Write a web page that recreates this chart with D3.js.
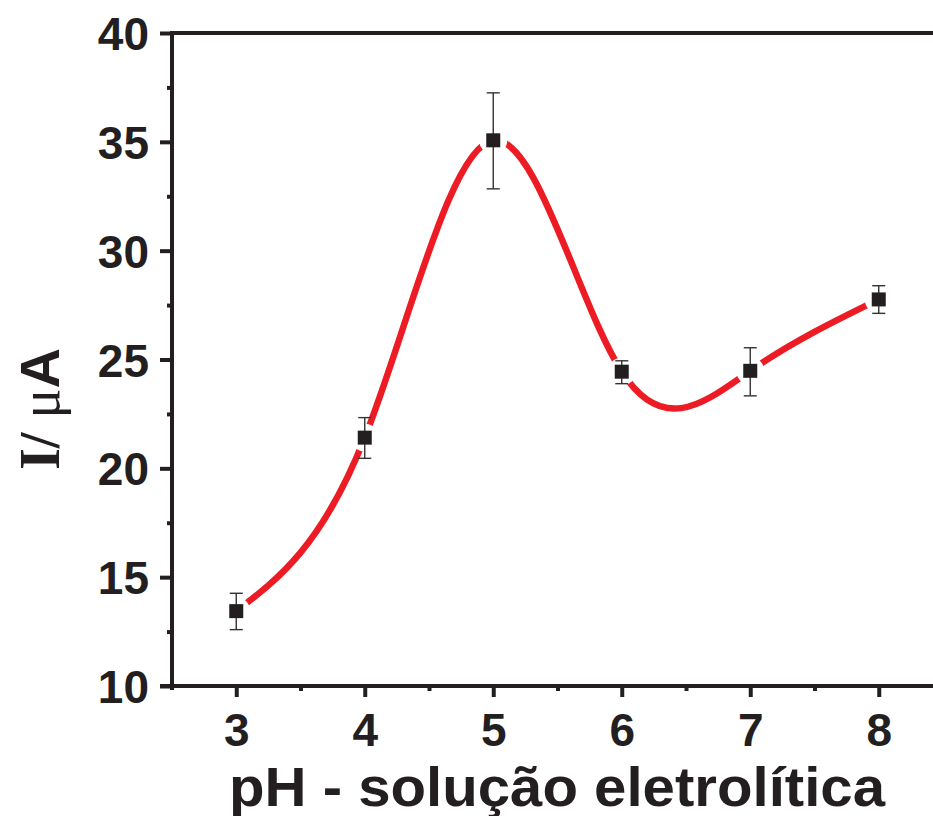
<!DOCTYPE html>
<html>
<head>
<meta charset="utf-8">
<script src="https://cdn.jsdelivr.net/npm/d3@7"></script>
<style>
  body { margin: 0; background: #fff; }
  svg { display: block; }
  .tick text { font-family: "Liberation Sans", Arial, sans-serif; font-weight: bold; fill: #231f20; }
</style>
</head>
<body>
<svg width="933" height="816"></svg>
<script>
// pH values and measured current (µA) with error bar limits
var ph = [3, 4, 5, 6, 7, 8];
var current = [13.44, 21.41, 35.07, 24.44, 24.48, 27.76];
var errHigh = [14.26, 22.33, 37.25, 24.94, 25.54, 28.39];
var errLow = [12.59, 20.46, 32.84, 23.89, 23.33, 27.12];
var xTicks = [3, 4, 5, 6, 7, 8];
var yTicks = [10, 15, 20, 25, 30, 35, 40];

var ink = '#231f20';
var svg = d3.select('svg');

var x = d3.scaleLinear().domain([2.5, 8.5]).range([172, 943]);
var y = d3.scaleLinear().domain([10, 40]).range([686, 33]);

var points = ph.map(function(p, i) {
  return { x: p, y: current[i], hi: errHigh[i], lo: errLow[i] };
});

// minor ticks
svg.append('g')
  .attr('transform', 'translate(0,686)')
  .call(d3.axisBottom(x).tickValues([3.5, 4.5, 5.5, 6.5, 7.5]).tickSize(5).tickFormat(''))
  .call(function(g) { g.select('.domain').remove(); })
  .selectAll('line').attr('stroke', ink).attr('stroke-width', 4);
svg.append('g')
  .attr('transform', 'translate(172,0)')
  .call(d3.axisLeft(y).tickValues([12.5, 17.5, 22.5, 27.5, 32.5, 37.5]).tickSize(5).tickFormat(''))
  .call(function(g) { g.select('.domain').remove(); })
  .selectAll('line').attr('stroke', ink).attr('stroke-width', 4);

// major axes
var xAxis = svg.append('g')
  .attr('transform', 'translate(0,686)')
  .call(d3.axisBottom(x).tickValues(xTicks).tickFormat(d3.format('d'))
    .tickSize(11).tickSizeOuter(0).tickPadding(13));
xAxis.select('.domain').attr('stroke', ink).attr('stroke-width', 4)
  .attr('d', 'M160,0H933');
xAxis.selectAll('line').attr('stroke', ink).attr('stroke-width', 4);
xAxis.selectAll('text').style('font-size', '46px').attr('dy', '0.78em');

var yAxis = svg.append('g')
  .attr('transform', 'translate(172,0)')
  .call(d3.axisLeft(y).tickValues(yTicks).tickSize(12).tickSizeOuter(0).tickPadding(11));
yAxis.select('.domain').attr('stroke', ink).attr('stroke-width', 4)
  .attr('d', 'M0,31V690');
yAxis.selectAll('line').attr('stroke', ink).attr('stroke-width', 4);
yAxis.selectAll('text').style('font-size', '46px').attr('dy', '0.36em');

// top frame line
svg.append('line')
  .attr('x1', x(2.5)).attr('x2', 933)
  .attr('y1', y(40)).attr('y2', y(40))
  .attr('stroke', ink).attr('stroke-width', 4);

// spline through the points
var line = d3.line()
  .x(function(d) { return x(d.x); })
  .y(function(d) { return y(d.y); })
  .curve(d3.curveNatural);

svg.append('path')
  .datum(points)
  .attr('d', line)
  .attr('fill', 'none')
  .attr('stroke', '#ed1c24')
  .attr('stroke-width', 6.5);

// gaps around symbols
svg.append('g').selectAll('circle')
  .data(points).enter().append('circle')
  .attr('cx', function(d) { return x(d.x); })
  .attr('cy', function(d) { return y(d.y); })
  .attr('r', 14)
  .attr('fill', '#fff');

// error bars
var eb = svg.append('g').attr('stroke', '#333').attr('stroke-width', 1.4);
eb.selectAll('.v').data(points).enter().append('line')
  .attr('x1', function(d) { return x(d.x); })
  .attr('x2', function(d) { return x(d.x); })
  .attr('y1', function(d) { return y(d.hi); })
  .attr('y2', function(d) { return y(d.lo); });
eb.selectAll('.h').data(points).enter().append('line')
  .attr('x1', function(d) { return x(d.x) - 6.5; })
  .attr('x2', function(d) { return x(d.x) + 6.5; })
  .attr('y1', function(d) { return y(d.hi); })
  .attr('y2', function(d) { return y(d.hi); });
eb.selectAll('.l').data(points).enter().append('line')
  .attr('x1', function(d) { return x(d.x) - 6.5; })
  .attr('x2', function(d) { return x(d.x) + 6.5; })
  .attr('y1', function(d) { return y(d.lo); })
  .attr('y2', function(d) { return y(d.lo); });

// square markers
svg.append('g').selectAll('rect')
  .data(points).enter().append('rect')
  .attr('x', function(d) { return x(d.x) - 7; })
  .attr('y', function(d) { return y(d.y) - 7; })
  .attr('width', 14).attr('height', 14)
  .attr('fill', ink);

// axis titles
svg.append('text')
  .attr('x', 557).attr('y', 806)
  .attr('text-anchor', 'middle')
  .style('font-family', '"Liberation Sans", Arial, sans-serif')
  .style('font-weight', 'bold')
  .style('font-size', '55px')
  .attr('textLength', 656)
  .attr('lengthAdjust', 'spacingAndGlyphs')
  .attr('fill', ink)
  .text('pH - solução eletrolítica');

var yt = svg.append('text')
  .attr('transform', 'translate(59,409) rotate(-90)')
  .attr('text-anchor', 'middle')
  .style('font-weight', 'bold')
  .style('font-size', '56px')
  .attr('fill', ink);
yt.append('tspan').style('font-family', '"Liberation Serif", "Times New Roman", serif').text('I/ ');
yt.append('tspan').style('font-family', '"Liberation Serif", "Times New Roman", serif').style('font-weight', 'normal').text('μ');
yt.append('tspan').style('font-family', '"Liberation Sans", Arial, sans-serif').text('A');
</script>
</body>
</html>
